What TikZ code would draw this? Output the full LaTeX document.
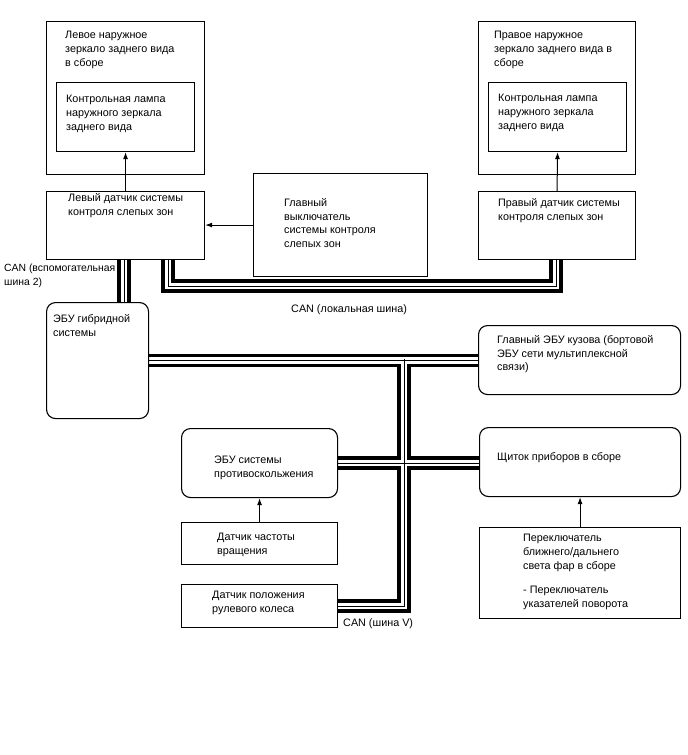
\documentclass[tikz,border=0pt]{standalone}
\usepackage{fontspec}
\setmainfont{Liberation Sans}
\usetikzlibrary{arrows.meta,backgrounds}

\begin{document}
\begin{tikzpicture}[x=1pt,y=-1pt,font=\fontsize{10.8}{13.8}\selectfont,
  box/.style={draw,line width=1.1pt,anchor=north west,inner sep=0pt},
  ecu/.style={box,rounded corners=9pt},
  txt/.style={anchor=north west,inner sep=0pt,align=left},
  sig/.style={line width=1pt,-{Latex[length=7pt,width=5pt]}},
  busA/.style={line width=13.5pt},
  busB/.style={line width=6.5pt,white},
  busC/.style={line width=0.7pt}]
\useasboundingbox (0,0) rectangle (688,755);

\node[box,minimum width=158,minimum height=153] (lmirror) at (46,21) {};
\node[box,minimum width=138,minimum height=69] (llamp) at (56,82) {};
\node[box,minimum width=158,minimum height=68] (lsensor) at (46,191) {};
\node[box,minimum width=174,minimum height=103] (mainsw) at (253,173) {};
\node[box,minimum width=157,minimum height=153] (rmirror) at (478,21) {};
\node[box,minimum width=138,minimum height=69] (rlamp) at (488,82) {};
\node[box,minimum width=157,minimum height=68] (rsensor) at (478,191) {};
\node[ecu,minimum width=102,minimum height=116] (hyb) at (46,302) {};
\node[ecu,minimum width=202,minimum height=69] (bodyecu) at (478,325) {};
\node[ecu,minimum width=156,minimum height=69] (abs) at (181,428) {};
\node[ecu,minimum width=201,minimum height=69] (cluster) at (479,427) {};
\node[box,minimum width=156,minimum height=42] (speed) at (181,522) {};
\node[box,minimum width=156,minimum height=43] (steer) at (181,584) {};
\node[box,minimum width=201,minimum height=91] (headsw) at (479,527) {};

\node[txt] (lmirrort) at ([shift={(19,10)}]lmirror.north west) {Левое наружное\\зеркало заднего вида\\в сборе};
\node[txt] (llampt) at ([shift={(10,13)}]llamp.north west) {Контрольная лампа\\наружного зеркала\\заднего вида};
\node[txt] (lsensort) at ([shift={(22,2)}]lsensor.north west) {Левый датчик системы\\контроля слепых зон};
\node[txt] (mainswt) at ([shift={(31,25)}]mainsw.north west) {Главный\\выключатель\\системы контроля\\слепых зон};
\node[txt] (rmirrort) at ([shift={(16,10)}]rmirror.north west) {Правое наружное\\зеркало заднего вида в\\сборе};
\node[txt] (rlampt) at ([shift={(10,12)}]rlamp.north west) {Контрольная лампа\\наружного зеркала\\заднего вида};
\node[txt] (rsensort) at ([shift={(20,7)}]rsensor.north west) {Правый датчик системы\\контроля слепых зон};
\node[txt] (hybt) at ([shift={(7,12)}]hyb.north west) {ЭБУ гибридной\\системы};
\node[txt] (bodyecut) at ([shift={(19,10)}]bodyecu.north west) {Главный ЭБУ кузова (бортовой\\ЭБУ сети мультиплексной\\связи)};
\node[txt] (abst) at ([shift={(33,28)}]abs.north west) {ЭБУ системы\\противоскольжения};
\node[txt] (clustert) at ([shift={(18,25)}]cluster.north west) {Щиток приборов в сборе};
\node[txt] (speedt) at ([shift={(36,11)}]speed.north west) {Датчик частоты\\вращения};
\node[txt] (steert) at ([shift={(31,7)}]steer.north west) {Датчик положения\\рулевого колеса};
\node[txt] (headswt) at ([shift={(44,7)}]headsw.north west) {Переключатель\\ближнего/дальнего\\света фар в сборе\\[10pt]- Переключатель\\[1pt]указателей поворота};

\node[txt,font=\fontsize{10.4}{13.4}\selectfont] (canaux) at (4,264) {CAN (вспомогательная\\шина 2)};
\node[txt] (canloc) at (291,304) {CAN (локальная шина)};
\node[txt] (canv) at (343,618) {CAN (шина V)};

\draw[sig] (lsensor.north) -- (llamp.south);
\draw[sig] (rsensor.north) -- (rlamp.south);
\draw[sig] (mainsw.west) -- (mainsw.west -| lsensor.east);
\draw[sig] (speed.north) -- (abs.south);
\draw[sig] (headsw.north) -- (cluster.south);

\coordinate (busT) at (404,359);
\begin{scope}[on background layer]
\foreach \s in {busA,busB,busC}{
  \draw[\s] ([xshift=78pt]lsensor.south west) -- ([xshift=78pt]hyb.north west);
  \draw[\s] ([xshift=122pt]lsensor.south west) -- ++(0,26) -| ([xshift=78pt]rsensor.south west);
  \draw[\s] (hyb.east) -- (hyb.east -| bodyecu.west);
  \draw[\s] (steer.east) -| (busT);
  \draw[\s] (abs.east) -- (abs.east -| cluster.west);
}
\end{scope}
\end{tikzpicture}
\end{document}
